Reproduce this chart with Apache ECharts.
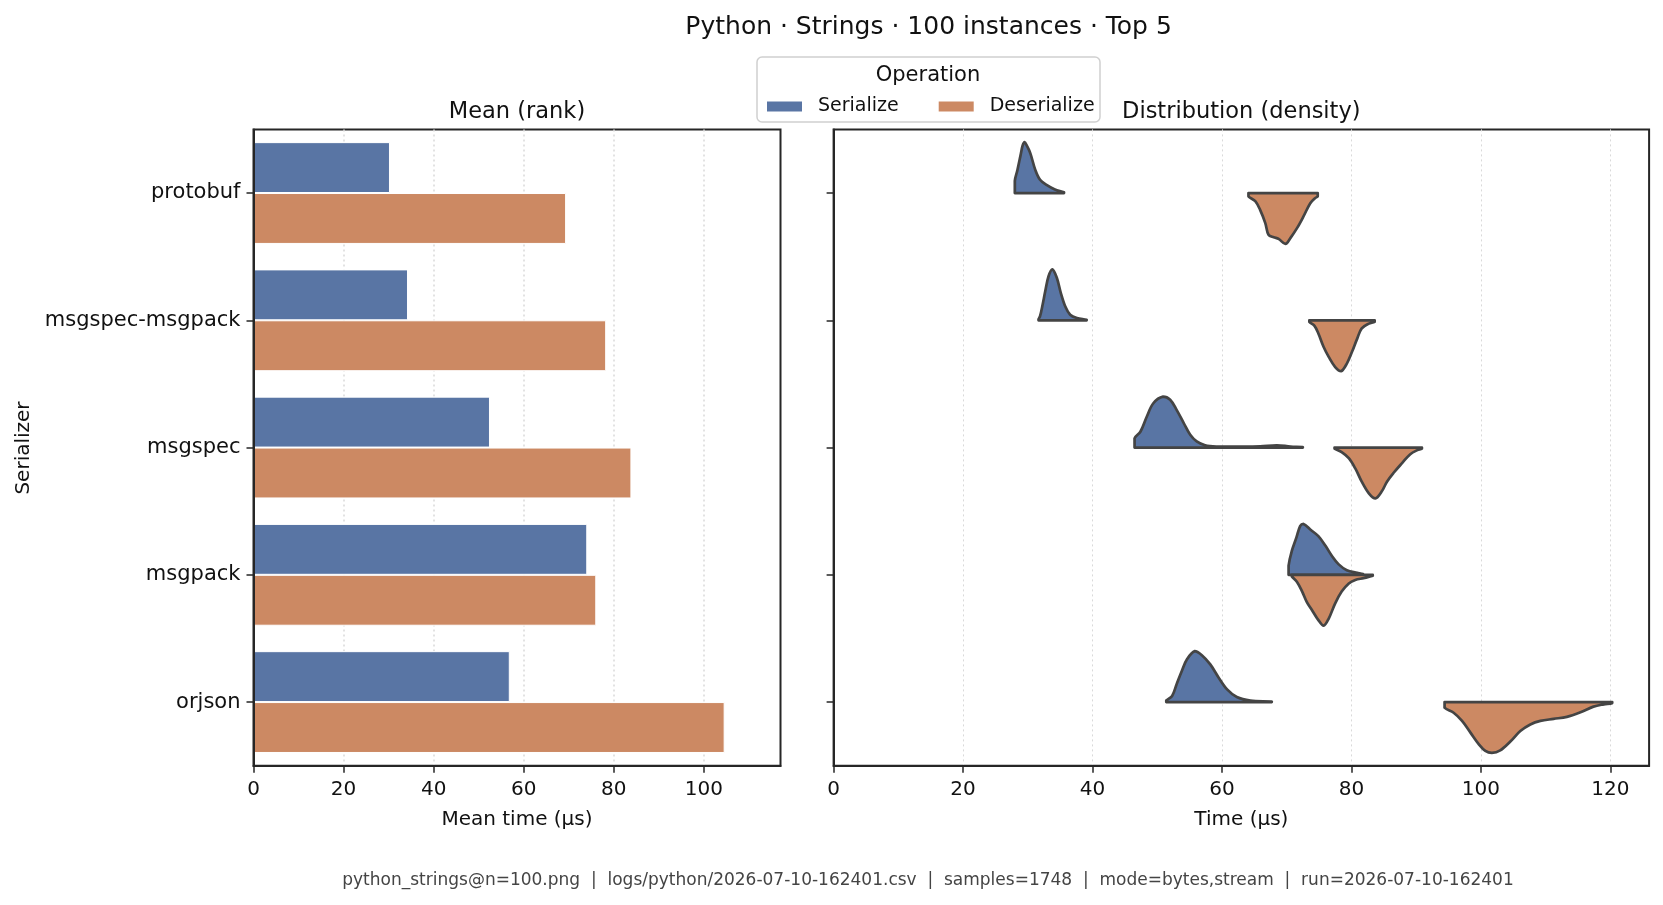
<!DOCTYPE html>
<html>
<head>
<meta charset="utf-8">
<title>Python · Strings · 100 instances · Top 5</title>
<script src="https://cdn.jsdelivr.net/npm/echarts@6.0.0/dist/echarts.min.js"></script>
<style>
  html, body { margin: 0; padding: 0; background: #fff; }
  #chart { width: 1663px; height: 905px; }
</style>
</head>
<body>
<div id="chart"></div>
<script>
// ---- data ----
var categories = ['protobuf', 'msgspec-msgpack', 'msgspec', 'msgpack', 'orjson'];
var serializeMean = [30.3, 34.3, 52.5, 74.1, 56.9];
var deserializeMean = [69.4, 78.3, 83.9, 76.1, 104.6];
var meanTicks = [0, 20, 40, 60, 80, 100];
var timeTicks = [0, 20, 40, 60, 80, 100, 120];

// [time (µs), relative density] per serializer, peak = 1
var serializeDensity = [
  [[28.0, 0.24], [28.4, 0.45], [28.9, 0.75], [29.2, 0.93], [29.5, 1.0], [29.9, 0.92], [30.4, 0.78], [31.15, 0.46], [31.9, 0.26], [32.9, 0.16], [34.2, 0.07], [35.6, 0.015]],
  [[31.66, 0.02], [31.9, 0.08], [32.3, 0.31], [32.7, 0.57], [33.2, 0.86], [33.8, 1.0], [34.5, 0.83], [35.1, 0.54], [35.8, 0.27], [36.55, 0.11], [37.6, 0.045], [39.1, 0.01]],
  [[46.5, 0.18], [47.4, 0.31], [48.4, 0.61], [49.4, 0.87], [50.9, 1.0], [52.0, 0.94], [53.0, 0.74], [54.1, 0.48], [55.1, 0.25], [56.1, 0.12], [57.4, 0.045], [59.2, 0.02], [62.3, 0.02], [65.9, 0.025], [68.5, 0.045], [70.6, 0.02], [72.5, 0.01]],
  [[70.3, 0.18], [70.8, 0.47], [71.5, 0.73], [72.1, 0.96], [72.6, 1.0], [73.65, 0.89], [74.9, 0.76], [76.0, 0.57], [77.0, 0.37], [78.0, 0.21], [79.3, 0.09], [80.9, 0.04], [81.8, 0.015]],
  [[51.4, 0.03], [52.3, 0.12], [53.0, 0.35], [53.8, 0.61], [54.6, 0.84], [55.8, 1.0], [56.9, 0.92], [58.2, 0.74], [59.5, 0.48], [60.8, 0.25], [62.3, 0.1], [64.4, 0.03], [67.7, 0.01]]
];
var deserializeDensity = [
  [[64.1, 0.065], [65.15, 0.16], [65.9, 0.33], [66.7, 0.59], [67.2, 0.82], [68.0, 0.87], [68.75, 0.9], [69.8, 1.0], [70.6, 0.88], [71.6, 0.69], [72.6, 0.46], [73.65, 0.2], [74.4, 0.1], [74.8, 0.065]],
  [[73.5, 0.03], [74.3, 0.11], [74.9, 0.26], [75.7, 0.52], [76.5, 0.72], [77.5, 0.92], [78.4, 1.0], [79.3, 0.85], [80.1, 0.62], [80.9, 0.36], [81.6, 0.16], [82.7, 0.065], [83.6, 0.03]],
  [[77.4, 0.02], [78.5, 0.09], [79.6, 0.21], [80.6, 0.41], [81.6, 0.67], [82.7, 0.9], [83.7, 1.0], [84.7, 0.86], [85.5, 0.67], [86.5, 0.5], [87.8, 0.31], [89.1, 0.13], [90.2, 0.05], [90.9, 0.02]],
  [[70.8, 0.03], [71.6, 0.14], [72.4, 0.33], [73.1, 0.53], [73.9, 0.69], [74.9, 0.89], [75.7, 1.0], [76.5, 0.86], [77.5, 0.56], [78.5, 0.33], [79.6, 0.17], [80.6, 0.1], [81.9, 0.065], [83.3, 0.02]],
  [[94.4, 0.11], [95.8, 0.21], [97.1, 0.37], [98.4, 0.6], [99.7, 0.83], [100.7, 0.96], [101.7, 1.0], [103.0, 0.95], [104.6, 0.77], [106.1, 0.57], [107.65, 0.44], [109.2, 0.37], [111.25, 0.33], [113.3, 0.29], [115.4, 0.2], [117.4, 0.09], [119.0, 0.045], [120.3, 0.02]]
];

var FONT = 'DejaVu Sans';
var BLUE = '#5975a4';
var ORANGE = '#cc8963';
var SPINE = '#262626';
var TEXT = '#111';

// split violin half: up = serialize (above center), down = deserialize
function violinRenderer(curves, up, color) {
  return function (params, api) {
    var i = params.dataIndex;
    var curve = curves[i];
    var half = api.size([0, 1])[1] * 0.4;
    var sign = up ? -1 : 1;
    var pts = [api.coord([curve[0][0], i])];
    curve.forEach(function (p) {
      var c = api.coord([p[0], i]);
      pts.push([c[0], c[1] + sign * p[1] * half]);
    });
    pts.push(api.coord([curve[curve.length - 1][0], i]));
    // keep the smoothed outline inside the box of its own points
    var lo = [Infinity, Infinity], hi = [-Infinity, -Infinity];
    pts.forEach(function (p) {
      lo[0] = Math.min(lo[0], p[0]); lo[1] = Math.min(lo[1], p[1]);
      hi[0] = Math.max(hi[0], p[0]); hi[1] = Math.max(hi[1], p[1]);
    });
    return {
      type: 'polygon',
      shape: { points: pts, smooth: 0.35, smoothConstraint: [lo, hi] },
      style: { fill: color, stroke: '#444', lineWidth: 2.7, lineJoin: 'round' }
    };
  };
}

function xAxisCommon(name, max, ticks, gridLineWidth) {
  return {
    type: 'value', min: 0, max: max, interval: 20,
    name: name, nameLocation: 'middle', nameGap: 44,
    nameTextStyle: { fontSize: 20, color: TEXT, fontFamily: FONT },
    axisLine: { show: true, onZero: false, lineStyle: { color: SPINE, width: 2 } },
    axisTick: { show: true, length: 7, customValues: ticks, lineStyle: { color: SPINE, width: 1.5 } },
    axisLabel: { fontSize: 20, color: TEXT, fontFamily: FONT, margin: 14, customValues: ticks },
    splitLine: { show: true, lineStyle: { type: [2, 3], color: '#d9d9d9', width: gridLineWidth } }
  };
}

var chart = echarts.init(document.getElementById('chart'), null, { renderer: 'canvas' });

var option = {
  animation: false,
  backgroundColor: '#fff',
  textStyle: { fontFamily: FONT },
  grid: [
    { left: 253.5, top: 129.4, width: 527, height: 636.3, show: true, borderColor: SPINE, borderWidth: 2 },
    { left: 833.6, top: 129.4, width: 815.5, height: 636.3, show: true, borderColor: SPINE, borderWidth: 2 }
  ],
  legend: {
    data: ['Serialize', 'Deserialize'],
    left: 760, top: 92,
    itemWidth: 37, itemHeight: 12, itemGap: 38,
    icon: 'rect', selectedMode: false,
    textStyle: { fontSize: 19, color: TEXT, fontFamily: FONT, padding: [0, 0, 0, 10] }
  },
  xAxis: [
    Object.assign({ gridIndex: 0 }, xAxisCommon('Mean time (µs)', 117, meanTicks, 1.5)),
    Object.assign({ gridIndex: 1 }, xAxisCommon('Time (µs)', 126, timeTicks, 1))
  ],
  yAxis: [
    {
      gridIndex: 0, type: 'category', data: categories, inverse: true, z: 5,
      axisLine: { show: true, lineStyle: { color: SPINE, width: 2 } },
      axisTick: { show: true, alignWithLabel: true, length: 7, lineStyle: { color: SPINE, width: 1.5 } },
      axisLabel: { fontSize: 21, color: TEXT, fontFamily: FONT, margin: 13 },
      splitLine: { show: false }
    },
    {
      gridIndex: 1, type: 'category', data: categories, inverse: true, z: 5,
      axisLine: { show: true, lineStyle: { color: SPINE, width: 2 } },
      axisTick: { show: true, alignWithLabel: true, length: 7, lineStyle: { color: SPINE, width: 1.5 } },
      axisLabel: { show: false },
      splitLine: { show: false }
    }
  ],
  series: [
    {
      name: 'Serialize', type: 'bar', xAxisIndex: 0, yAxisIndex: 0,
      data: serializeMean, barWidth: '40%', barGap: '0%',
      itemStyle: { color: BLUE, borderColor: '#fff', borderWidth: 1 }
    },
    {
      name: 'Deserialize', type: 'bar', xAxisIndex: 0, yAxisIndex: 0,
      data: deserializeMean, barWidth: '40%', barGap: '0%',
      itemStyle: { color: ORANGE, borderColor: '#fff', borderWidth: 1 }
    },
    {
      name: 'Serialize', type: 'custom', xAxisIndex: 1, yAxisIndex: 1,
      itemStyle: { color: BLUE },
      data: serializeDensity.map(function (c, i) { return [c[0][0], i]; }),
      encode: { x: 0, y: 1 },
      renderItem: violinRenderer(serializeDensity, true, BLUE),
      z: 3
    },
    {
      name: 'Deserialize', type: 'custom', xAxisIndex: 1, yAxisIndex: 1,
      itemStyle: { color: ORANGE },
      data: deserializeDensity.map(function (c, i) { return [c[0][0], i]; }),
      encode: { x: 0, y: 1 },
      renderItem: violinRenderer(deserializeDensity, false, ORANGE),
      z: 3
    }
  ],
  graphic: [
    {
      type: 'text', x: 928.6, y: 27.5,
      style: { text: 'Python · Strings · 100 instances · Top 5', fontSize: 25, fontFamily: FONT, fill: TEXT, align: 'center', verticalAlign: 'middle' }
    },
    {
      type: 'rect', z: 0,
      shape: { x: 757, y: 57, width: 343, height: 65, r: 5 },
      style: { fill: '#fff', stroke: '#d0d0d0', lineWidth: 1.5 }
    },
    {
      type: 'text', x: 928, y: 76,
      style: { text: 'Operation', fontSize: 21, fontFamily: FONT, fill: TEXT, align: 'center', verticalAlign: 'middle' }
    },
    {
      type: 'text', x: 517, y: 112,
      style: { text: 'Mean (rank)', fontSize: 22.5, fontFamily: FONT, fill: TEXT, align: 'center', verticalAlign: 'middle' }
    },
    {
      type: 'text', x: 1241.3, y: 112,
      style: { text: 'Distribution (density)', fontSize: 22.5, fontFamily: FONT, fill: TEXT, align: 'center', verticalAlign: 'middle' }
    },
    {
      type: 'text', x: 23.5, y: 448, rotation: Math.PI / 2,
      style: { text: 'Serializer', fontSize: 20, fontFamily: FONT, fill: TEXT, align: 'center', verticalAlign: 'middle' }
    },
    {
      type: 'text', x: 928, y: 881,
      style: {
        text: 'python_strings@n=100.png  |  logs/python/2026-07-10-162401.csv  |  samples=1748  |  mode=bytes,stream  |  run=2026-07-10-162401',
        fontSize: 17, fontFamily: FONT, fill: '#444', align: 'center', verticalAlign: 'middle'
      }
    }
  ]
};

chart.setOption(option);
</script>
</body>
</html>
